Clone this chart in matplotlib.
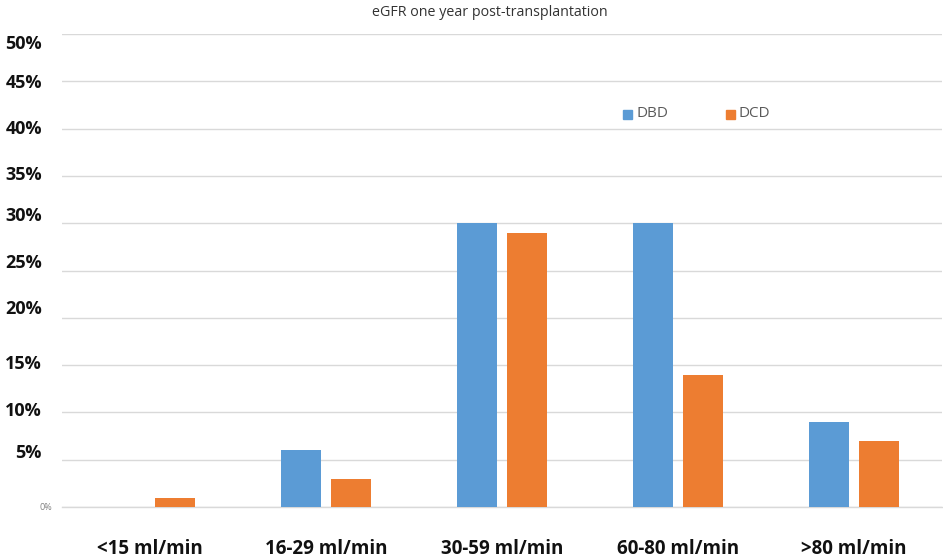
import matplotlib
matplotlib.use("Agg")
import matplotlib.pyplot as plt
import numpy as np

categories = ["<15 ml/min", "16-29 ml/min", "30-59 ml/min", "60-80 ml/min", ">80 ml/min"]
dbd = [0, 6, 30, 30, 9]
dcd = [1, 3, 29, 14, 7]
series_names = ["DBD", "DCD"]
ytick_values = [0, 5, 10, 15, 20, 25, 30, 35, 40, 45, 50]
# bold labels sit slightly off their gridlines
ylabel_texts = ["5%", "10%", "15%", "20%", "25%", "30%", "35%", "40%", "45%", "50%"]
ylabel_pos = [5.7, 10.1, 15.1, 20.9, 25.8, 30.8, 35.1, 40.0, 44.8, 48.9]

blue = "#5b9bd5"
orange = "#ed7d31"
font = "Open Sans"

W, H = 943, 560
fig = plt.figure(figsize=(W / 100, H / 100), dpi=100)
ax = fig.add_axes([62 / W, 53 / H, 880 / W, 473 / H])

x = np.arange(len(categories))
bw = 0.227
off = 0.142
ax.bar(x - off, dbd, width=bw, color=blue, zorder=3)
ax.bar(x + off, dcd, width=bw, color=orange, zorder=3)

ax.set_xlim(-0.5, len(categories) - 0.5)
ax.set_ylim(0, 50)
ax.set_yticks(ytick_values)
ax.set_yticklabels([""] * len(ytick_values))
ax.yaxis.grid(True, color="#d9d9d9", linewidth=1.0, zorder=0)
ax.axhline(0, color="#d9d9d9", linewidth=1.0, zorder=1, clip_on=False)
ax.tick_params(axis="both", length=0)
for s in ax.spines.values():
    s.set_visible(False)

ax.set_xticks(x)
ax.set_xticklabels(categories, fontsize=13.5, fontweight="bold", family=font, color="#111111")
ax.tick_params(axis="x", pad=23)

# small grey zero label
ax.text(-0.011, 0, "0%", transform=ax.get_yaxis_transform(), ha="right", va="center",
        fontsize=6.5, color="#808080", family=font)
for t, v in zip(ylabel_texts, ylabel_pos):
    ax.text(-0.023, v, t, transform=ax.get_yaxis_transform(), ha="right", va="center",
            fontsize=13, fontweight="bold", color="#111111", family=font)

fig.text(490 / W, 1 - 12 / H, "eGFR one year post-transplantation", ha="center", va="center",
         fontsize=10.3, color="#333333", family=font)

# legend
for name, col, lx in zip(series_names, [blue, orange], [623, 726]):
    fig.patches.append(plt.Rectangle((lx / W, 1 - 119 / H), 9 / W, 9 / H,
                                     transform=fig.transFigure, color=col))
    fig.text((lx + 13) / W, 1 - 114 / H, name, ha="left", va="center",
             fontsize=11, color="#595959", family=font)

fig.savefig("out.png", dpi=100, facecolor="white")
